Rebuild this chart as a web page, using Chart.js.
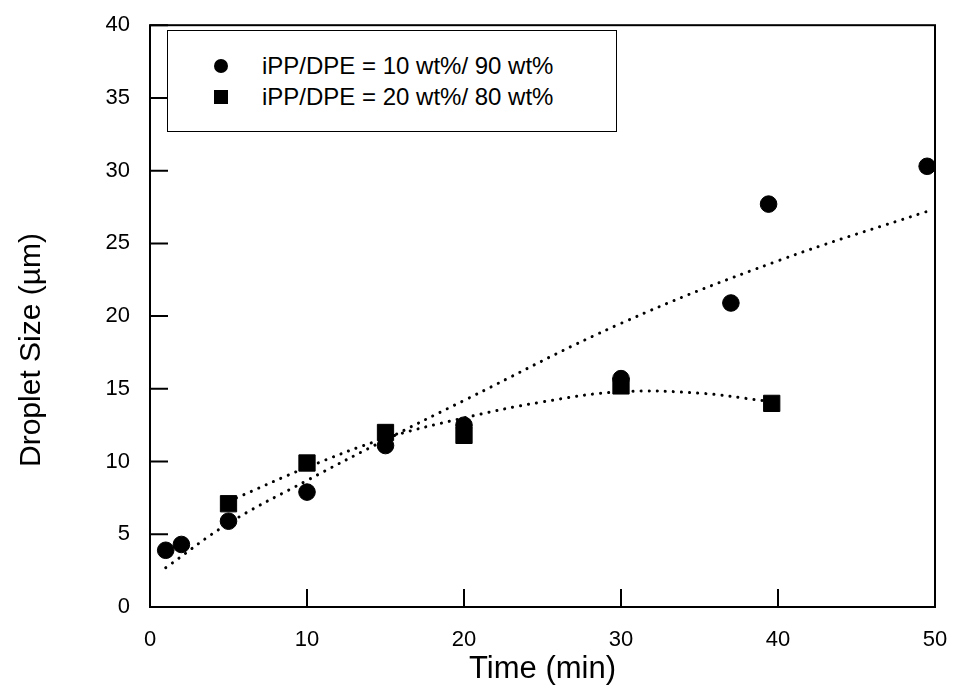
<!DOCTYPE html>
<html>
<head>
<meta charset="utf-8">
<script src="https://cdn.jsdelivr.net/npm/chart.js@4/dist/chart.umd.min.js"></script>
<style>
  html, body { margin: 0; padding: 0; background: #fff; }
  #wrap { position: relative; width: 960px; height: 692px; }
  #legend {
    position: absolute; left: 167px; top: 30px; width: 450px; height: 102px;
    border: 1.5px solid #000; box-sizing: border-box; background: #fff;
    font-family: "Liberation Sans", Arial, sans-serif; font-size: 24px; color: #000;
  }
  .row { position: absolute; left: 0; height: 28px; line-height: 28px; }
  .row span { position: absolute; left: 94px; white-space: nowrap; }
  .mk { position: absolute; left: 46px; top: 7px; width: 14px; height: 14px; background: #000; }
  .mk.c { border-radius: 50%; }
</style>
</head>
<body>
<div id="wrap">
  <canvas id="c" width="960" height="692"></canvas>
  <div id="legend">
    <div class="row" style="top:21px"><div class="mk c"></div><span>iPP/DPE = 10 wt%/ 90 wt%</span></div>
    <div class="row" style="top:52px"><div class="mk"></div><span>iPP/DPE = 20 wt%/ 80 wt%</span></div>
  </div>
</div>
<script>
const timeA = [1, 2, 5, 10, 15, 20, 30, 37, 39.4, 49.5];
const sizeA = [3.9, 4.3, 5.9, 7.9, 11.1, 12.5, 15.7, 20.9, 27.7, 30.3];
const timeB = [5, 10, 15, 20, 30, 39.6];
const sizeB = [7.1, 9.9, 12.0, 11.8, 15.2, 14.0];

// dotted fit curves
const fitTimeA = [1, 5, 10, 15, 20, 30, 40, 49.5];
const fitSizeA = [2.7, 5.75, 8.7, 11.5, 14.2, 19.5, 23.8, 27.2];
const fitTimeB = [5.5, 10, 15, 20, 25, 30, 35, 39];
const fitSizeB = [7.5, 9.6, 11.6, 13.0, 14.1, 14.8, 14.7, 14.2];

const xTicks = [0, 10, 20, 30, 40, 50];
const yTicks = [0, 5, 10, 15, 20, 25, 30, 35, 40];

const pts = (xs, ys) => xs.map((x, i) => ({ x: x, y: ys[i] }));

const fitStyle = {
  showLine: true, pointRadius: 0, borderColor: '#000', borderWidth: 3,
  borderDash: [0.1, 8], borderCapStyle: 'round', tension: 0.4, fill: false
};

// box frame, inward ticks, and the y title (sits a bit below centre in the original)
const framePlugin = {
  id: 'frame',
  afterDatasetsDraw(chart) {
    const { ctx, chartArea: a, scales } = chart;
    ctx.save();
    ctx.strokeStyle = '#000';
    ctx.lineWidth = 2;
    ctx.strokeRect(a.left, a.top, a.right - a.left, a.bottom - a.top);
    ctx.beginPath();
    xTicks.forEach(v => {
      const px = scales.x.getPixelForValue(v);
      ctx.moveTo(px, a.bottom); ctx.lineTo(px, a.bottom - 18);
    });
    yTicks.forEach(v => {
      const py = scales.y.getPixelForValue(v);
      ctx.moveTo(a.left, py); ctx.lineTo(a.left + 18, py);
    });
    ctx.stroke();

    ctx.translate(32, 350);
    ctx.rotate(-Math.PI / 2);
    ctx.fillStyle = '#000';
    ctx.font = '30px "Liberation Sans"';
    ctx.textAlign = 'center';
    ctx.textBaseline = 'middle';
    ctx.fillText('Droplet Size (\u00b5m)', 0, 0);
    ctx.restore();
  }
};

new Chart(document.getElementById('c'), {
  type: 'scatter',
  data: {
    datasets: [
      Object.assign({ label: 'fitA', data: pts(fitTimeA, fitSizeA) }, fitStyle),
      Object.assign({ label: 'fitB', data: pts(fitTimeB, fitSizeB) }, fitStyle),
      {
        label: 'iPP/DPE = 10 wt%/ 90 wt%', data: pts(timeA, sizeA),
        pointStyle: 'circle', pointRadius: 8.3, backgroundColor: '#000', borderColor: '#000'
      },
      {
        label: 'iPP/DPE = 20 wt%/ 80 wt%', data: pts(timeB, sizeB),
        pointStyle: 'rect', pointRadius: 11.5, backgroundColor: '#000', borderColor: '#000'
      }
    ]
  },
  options: {
    responsive: false,
    animation: false,
    layout: { padding: { top: 20, right: 25 } },
    plugins: { legend: { display: false }, tooltip: { enabled: false } },
    scales: {
      x: {
        type: 'linear', min: 0, max: 50,
        afterBuildTicks: s => { s.ticks = xTicks.map(v => ({ value: v })); },
        afterFit: s => { s.height = 85; },
        grid: { display: false },
        border: { display: false },
        ticks: { color: '#000', padding: 12, font: { family: 'Liberation Sans', size: 22 } },
        title: {
          display: true, text: 'Time (min)', color: '#000', padding: { top: 0, bottom: 4 },
          font: { family: 'Liberation Sans', size: 31 }
        }
      },
      y: {
        type: 'linear', min: 0, max: 40,
        afterBuildTicks: s => { s.ticks = yTicks.map(v => ({ value: v })); },
        afterFit: s => { s.width = 150; },
        grid: { display: false },
        border: { display: false },
        ticks: { color: '#000', padding: 12, font: { family: 'Liberation Sans', size: 22 } },
        title: { display: false }
      }
    }
  },
  plugins: [framePlugin]
});
</script>
</body>
</html>
